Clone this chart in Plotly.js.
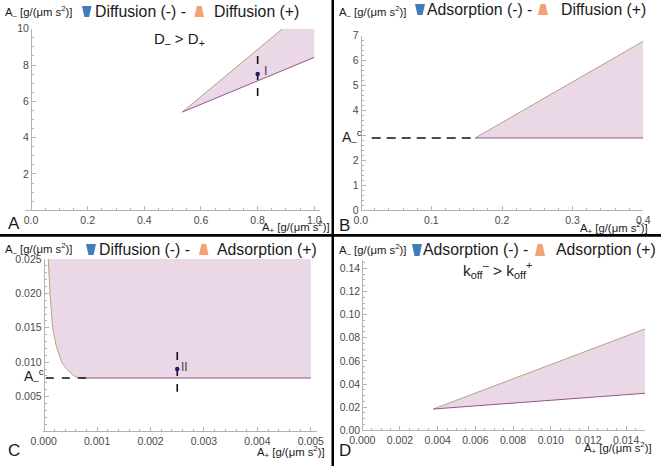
<!DOCTYPE html>
<html><head><meta charset="utf-8">
<script src="https://cdn.plot.ly/plotly-3.0.1.min.js"></script>
<style>html,body{margin:0;padding:0;background:#fff}#c{width:661px;height:466px}</style>
</head><body><div id="c"></div>
<script>
// Panel A
var aUpperX=[0.534,0.888], aUpperY=[5.41,10];
var aLowerX=[0.534,1.0], aLowerY=[5.41,8.42];
var aPoint=[0.8,7.5], aDashX=[0.8,0.8], aDashY=[8.5,6.29];
// Panel B
var bUpperX=[0.162,0.4], bUpperY=[2.9,6.78];
var bLowerX=[0.162,0.4], bLowerY=[2.9,2.9];
var bDashX=[0.0156,0.162], bDashY=[2.9,2.9];
// Panel C
var cUpperX=[0.000086,0.000118,0.000168,0.00023,0.000337,0.00043,0.000535,0.000617,0.00072];
var cUpperY=[0.025,0.020,0.015,0.0125,0.010,0.009,0.0082,0.0078,0.0077];
var cLowerX=[0.00072,0.005], cLowerY=[0.0077,0.0077];
var cPoint=[0.0025,0.009], cDashX=[0.0025,0.0025], cDashY=[0.01147,0.0057];
var cDash2X=[0.00004,0.00079], cDash2Y=[0.0077,0.0077];
// Panel D
var dUpperX=[0.00377,0.015], dUpperY=[0.0184,0.0876];
var dLowerX=[0.00377,0.015], dLowerY=[0.0184,0.032];

var W=661,H=466;
function px(x){return x/W;} function py(y){return 1-y/H;}
var FILL='#ead8e6',TAN='#b5a27a',PUR='#94548c',NAVY='#1c1c70',BK='#111';

function poly(xs,ys,xa,ya){return {x:xs,y:ys,xaxis:xa,yaxis:ya,mode:'none',fill:'toself',fillcolor:FILL,hoverinfo:'skip',showlegend:false};}
function line(xs,ys,c,xa,ya){return {x:xs,y:ys,xaxis:xa,yaxis:ya,mode:'lines',line:{color:c,width:1},showlegend:false};}
function dash(xs,ys,d,xa,ya){return {x:xs,y:ys,xaxis:xa,yaxis:ya,mode:'lines',line:{color:BK,width:1.6,dash:d},showlegend:false};}
function dot(p,xa,ya){return {x:[p[0]],y:[p[1]],xaxis:xa,yaxis:ya,mode:'markers',marker:{color:NAVY,size:4.5},showlegend:false};}

var data=[
 poly(aUpperX.concat([1.0]).concat(aLowerX.slice().reverse()),aUpperY.concat([10]).concat(aLowerY.slice().reverse()),'x','y'),
 line(aUpperX,aUpperY,TAN,'x','y'),line(aLowerX,aLowerY,PUR,'x','y'),
 dash(aDashX,aDashY,'8px,8px','x','y'),dot(aPoint,'x','y'),
 poly(bUpperX.concat(bLowerX.slice().reverse()),bUpperY.concat(bLowerY.slice().reverse()),'x2','y2'),
 line(bUpperX,bUpperY,TAN,'x2','y2'),line(bLowerX,bLowerY,PUR,'x2','y2'),
 dash(bDashX,bDashY,'9px,6px','x2','y2'),
 poly(cUpperX.concat(cLowerX).concat([0.005]),cUpperY.concat(cLowerY).concat([0.025]),'x3','y3'),
 line(cUpperX,cUpperY,TAN,'x3','y3'),line(cLowerX,cLowerY,PUR,'x3','y3'),
 dash(cDashX,cDashY,'8px,8px','x3','y3'),dash(cDash2X,cDash2Y,'8px,8px','x3','y3'),dot(cPoint,'x3','y3'),
 poly(dUpperX.concat(dLowerX.slice().reverse()),dUpperY.concat(dLowerY.slice().reverse()),'x4','y4'),
 line(dUpperX,dUpperY,TAN,'x4','y4'),line(dLowerX,dLowerY,PUR,'x4','y4')
];

var GR='#b4b4b4',TF={family:'Liberation Sans',size:10.5,color:'#4a4a4a'};
function xax(l,r,range,anchor,vals,txt,minor){return {domain:[px(l),px(r)],range:range,anchor:anchor,showgrid:false,zeroline:false,showline:true,linecolor:GR,linewidth:1,
 ticks:'inside',ticklen:4,tickcolor:GR,tickmode:'array',tickvals:vals,ticktext:txt,tickfont:TF,fixedrange:true,
 minor:{dtick:minor,ticks:'inside',ticklen:2,tickcolor:GR,showgrid:false}};}
function yax(t,b,range,pos,vals,txt,minor){return {domain:[py(b),py(t)],range:range,anchor:'free',position:px(pos),showgrid:false,zeroline:false,showline:true,linecolor:GR,linewidth:1,
 ticks:'inside',ticklen:4,tickcolor:GR,tickmode:'array',tickvals:vals,ticktext:txt,tickfont:TF,fixedrange:true,
 minor:{dtick:minor,ticks:'inside',ticklen:2,tickcolor:GR,showgrid:false}};}

var xA=[0,0.2,0.4,0.6,0.8,1.0], xAt=['0.0','0.2','0.4','0.6','0.8','1.0'];
var yA=[2,4,6,8,10], yAt=['2','4','6','8','10'];
var xB=[0,0.1,0.2,0.3,0.4], xBt=['0.0','0.1','0.2','0.3','0.4'];
var yB=[0,1,2,3,4,5,6,7], yBt=['0','1','2','','4','5','6','7'];
var xC=[0,0.001,0.002,0.003,0.004,0.005], xCt=['0.000','0.001','0.002','0.003','0.004','0.005'];
var yC=[0.005,0.01,0.015,0.02,0.025], yCt=['0.005','0.010','0.015','0.020','0.025'];
var xD=[0,0.002,0.004,0.006,0.008,0.01,0.012,0.014], xDt=['0.000','0.002','0.004','0.006','0.008','0.010','0.012','0.014'];
var yD=[0,0.02,0.04,0.06,0.08,0.1,0.12,0.14], yDt=['0.00','0.02','0.04','0.06','0.08','0.10','0.12','0.14'];

function note(x,y,t,size,anchor,col){return {xref:'paper',yref:'paper',x:px(x),y:py(y),text:t,showarrow:false,xanchor:anchor||'left',yanchor:'middle',
 font:{family:'Liberation Sans',size:size,color:col||'#1a1a1a'},borderpad:0,borderwidth:0};}
var YT='A<sub>–</sub> [g/(μm s<sup>2</sup>)]', XT='A<sub>+</sub> [g/(μm s<sup>2</sup>)]', AC='A<sub>–</sub><sup>c</sup>';
var T=15.8, YS=11.3;
var annotations=[
 note(5,12,YT,YS),note(95,12,'Diffusion (-) -',T),note(214,12,'Diffusion (+)',T),
 note(154,39,'D<sub>–</sub> > D<sub>+</sub>',15),note(262,227,XT,YS),note(8,224,'A',17),
 note(264,71,'I',12.5,'left','#444'),
 note(339,12,YT,YS),note(427,10,'Adsorption (-) -',T),note(561,10,'Diffusion (+)',T),
 note(580,228,XT,YS),note(339,225,'B',17),note(342,137,AC,14),
 note(5,249,YT,YS),note(99,249,'Diffusion (-) -',T),note(217,249,'Adsorption (+)',T),
 note(257,452,XT,YS),note(8,450,'C',17),note(24,376,AC,14),note(181,367,'II',12,'left','#444'),
 note(339,250,YT,YS),note(423,250,'Adsorption (-) -',T),note(556,250,'Adsorption (+)',T),
 note(463,270,'k<sub>off</sub><sup>–</sup> > k<sub>off</sub><sup>+</sup>',15.5),
 note(584,448,XT,YS),note(339,450,'D',17)
];
function glyphDown(l,r,t,b){var i=(r-l)*0.25;return {type:'path',xref:'paper',yref:'paper',line:{width:0},fillcolor:'#3f7dbd',
 path:'M'+px(l)+' '+py(t)+' L'+px(r)+' '+py(t)+' L'+px(r-i)+' '+py(b)+' L'+px(l+i)+' '+py(b)+' Z'};}
function glyphUp(l,r,t,b){var i=(r-l)*0.25;return {type:'path',xref:'paper',yref:'paper',line:{width:0},fillcolor:'#f2a274',
 path:'M'+px(l+i)+' '+py(t)+' L'+px(r-i)+' '+py(t)+' L'+px(r)+' '+py(b)+' L'+px(l)+' '+py(b)+' Z'};}
function rule(x0,y0,x1,y1){return {type:'rect',xref:'paper',yref:'paper',x0:px(x0),x1:px(x1),y0:py(y0),y1:py(y1),line:{width:0},fillcolor:'#000'};}
var shapes=[
 rule(331.5,0,334,466),rule(0,234,661,236.7),
 glyphDown(82,91.5,6,17),glyphUp(194.5,204,6,17),
 glyphDown(415,425,4,15),glyphUp(538,548,4,15),
 glyphDown(86,96,244,255),glyphUp(199,208.5,244,255),
 glyphDown(412,422,244,256),glyphUp(535,545,244,256)
];

var layout={width:W,height:H,margin:{l:0,r:0,t:0,b:0},paper_bgcolor:'#fff',plot_bgcolor:'rgba(0,0,0,0)',showlegend:false,
 xaxis:xax(25,320,[-0.0212,1.0201],'y',xA,xAt,0.05),
 yaxis:yax(28.7,210.3,[0,10],31,yA,yAt,0.5),
 xaxis2:xax(360.7,643.3,[0,0.4],'y2',xB,xBt,0.02),
 yaxis2:yax(35.7,210.3,[0,7],360.7,yB,yBt,0.2),
 xaxis3:xax(42.7,316.7,[-0.0000187,0.00511],'y3',xC,xCt,0.0002),
 yaxis3:yax(259,431,[0,0.025],43.7,yC,yCt,0.001),
 xaxis4:xax(362.3,645,[0,0.015],'y4',xD,xDt,0.0005),
 yaxis4:yax(260.2,430.3,[0,0.147],362.3,yD,yDt,0.005),
 annotations:annotations,shapes:shapes};
Plotly.newPlot('c',data,layout,{displayModeBar:false,staticPlot:true});
</script></body></html>
